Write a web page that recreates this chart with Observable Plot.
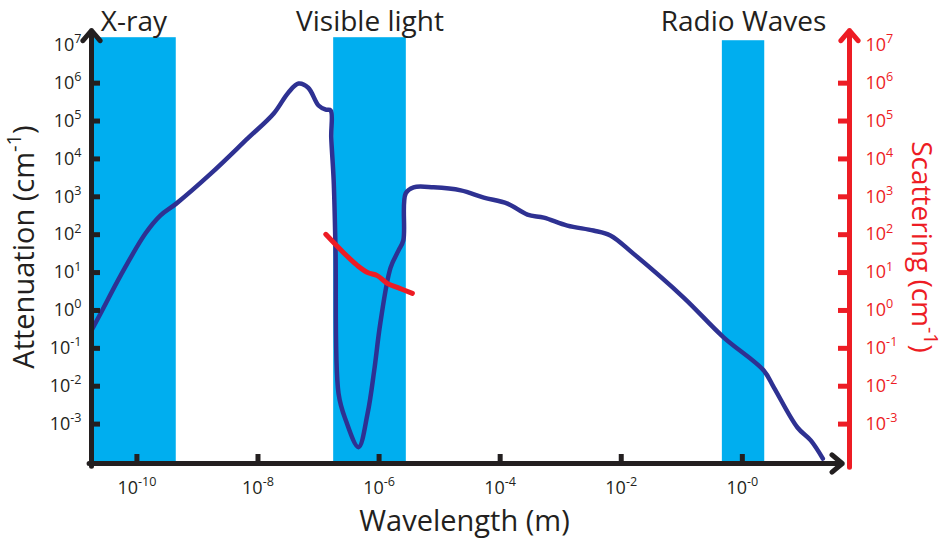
<!DOCTYPE html>
<html><head><meta charset="utf-8">
<script src="https://cdn.jsdelivr.net/npm/d3@7"></script>
<script src="https://cdn.jsdelivr.net/npm/@observablehq/plot@0.6"></script>
<style>body{margin:0;background:#fff} svg{display:block}</style>
</head><body><div id="chart"></div>
<script>
// ---- data (log10 exponents) ----
const attenuationWavelengthExp = [-10.75,-10.60,-10.27,-9.86,-9.61,-9.35,-8.78,-8.17,-7.74,-7.50,-7.33,-7.17,-7.00,-6.88,-6.80,-6.79,-6.75,-6.72,-6.67,-6.55,-6.34,-6.19,-6.08,-5.98,-5.81,-5.68,-5.60,-5.56,-5.43,-5.10,-4.65,-4.27,-3.88,-3.55,-3.28,-2.89,-2.46,-2.18,-1.80,-0.97,-0.31,0.35,0.52,0.91,1.13,1.33];
const attenuationExp = [-0.53,-0.08,0.92,2.03,2.51,2.82,3.61,4.54,5.20,5.75,5.99,5.88,5.41,5.30,5.28,4.56,3.43,1.66,-2.19,-2.90,-3.61,-2.72,-1.58,-0.34,1.13,1.58,1.85,3.09,3.25,3.25,3.17,2.98,2.82,2.53,2.45,2.24,2.11,1.98,1.50,0.34,-0.71,-1.58,-2.03,-3.09,-3.43,-3.91];
const scatteringWavelengthExp = [-6.88,-6.59,-6.36,-6.19,-6.03,-5.86,-5.70,-5.45];
const scatteringExp = [2.01,1.53,1.19,1.00,0.92,0.71,0.61,0.45];

const bandNames = ["X-ray", "Visible light", "Radio Waves"];
const bandStartExp = [-10.75, -6.75, -0.33];
const bandEndExp = [-9.35, -5.55, 0.37];
const bandTopExp = [7.2, 7.2, 7.12];

const xTickExp = [-10, -8, -6, -4, -2, 0];
const xTickLabels = ["10^{-10}", "10^{-8}", "10^{-6}", "10^{-4}", "10^{-2}", "10^{-0}"];
const yTickExp = [-3, -2, -1, 0, 1, 2, 3, 4, 5, 6, 7];
const yTickLabels = ["10^{-3}", "10^{-2}", "10^{-1}", "10^{0}", "10^{1}", "10^{2}", "10^{3}", "10^{4}", "10^{5}", "10^{6}", "10^{7}"];
const yTickMarkExp = [-3, -2, -1, 0, 1, 2, 3, 4, 5, 6];

const xDomainExp = [-10.75, 1.77];
const yDomainExp = [-4.04, 7.39];
const xArrowTipExp = 1.65;
const xCornerExp = -10.79;
const yCornerExp = -4.11;
const scatterAxisBottomExp = -4.14;

const xTitle = "Wavelength (m)";
const yTitle = "Attenuation (cm^{-1})";
const y2Title = "Scattering (cm^{-1})";

// ---- styling ----
const W = 945, H = 541, mL = 91, mR = 945 - 849, mT = 30, mB = 78;
const frameW = W - mL - mR, frameH = H - mT - mB;
const INK = "#231f20", BLUE = "#2e3192", RED = "#ed1c24", CYAN = "#00aeef";

const attenuation = attenuationWavelengthExp.map((e, i) => ({x: 10 ** e, y: 10 ** attenuationExp[i]}));
const scattering = scatteringWavelengthExp.map((e, i) => ({x: 10 ** e, y: 10 ** scatteringExp[i]}));
const bands = bandNames.map((n, i) => ({name: n, x1: 10 ** bandStartExp[i], x2: 10 ** bandEndExp[i], top: 10 ** bandTopExp[i]}));
const xTicks = xTickExp.map((e, i) => ({v: 10 ** e, label: xTickLabels[i]}));
const yTicks = yTickExp.map((e, i) => ({v: 10 ** e, label: yTickLabels[i]}));
const yTickMarks = yTickMarkExp.map(e => 10 ** e);
const xMin = 10 ** xDomainExp[0], xMax = 10 ** xDomainExp[1];
const yMin = 10 ** yDomainExp[0], yMax = 10 ** yDomainExp[1];

const plot = Plot.plot({
  width: W, height: H,
  marginLeft: mL, marginRight: mR, marginTop: mT, marginBottom: mB,
  x: {type: "log", domain: [xMin, xMax], axis: null},
  y: {type: "log", domain: [yMin, yMax], axis: null},
  style: {fontFamily: "'Open Sans', sans-serif", color: INK, background: "#fff"},
  marks: [
    Plot.rect(bands, {x1: "x1", x2: "x2", y1: () => yMin, y2: "top", fill: CYAN}),
    Plot.line(attenuation, {x: "x", y: "y", stroke: BLUE, strokeWidth: 4.5, curve: "catmull-rom"}),
    Plot.line(scattering, {x: "x", y: "y", stroke: RED, strokeWidth: 5, curve: "catmull-rom"}),
    Plot.tickX(xTicks, {x: "v", stroke: INK, strokeWidth: 5, insetTop: frameH - 9}),
    Plot.tickY(yTickMarks, {y: d => d, stroke: INK, strokeWidth: 5, insetRight: frameW - 9}),
    Plot.tickY(yTickMarks, {y: d => d, stroke: RED, strokeWidth: 5, insetLeft: frameW - 11}),
    Plot.arrow([0], {x1: () => xMin, y1: () => 10 ** yCornerExp, x2: () => xMin, y2: () => yMax, stroke: INK, strokeWidth: 5, headLength: 4, headAngle: 80}),
    Plot.arrow([0], {x1: () => 10 ** xCornerExp, y1: () => yMin, x2: () => 10 ** xArrowTipExp, y2: () => yMin, stroke: INK, strokeWidth: 5, headLength: 4, headAngle: 80}),
    Plot.arrow([0], {x1: () => xMax, y1: () => 10 ** scatterAxisBottomExp, x2: () => xMax, y2: () => yMax, stroke: RED, strokeWidth: 5, headLength: 4, headAngle: 80}),
    Plot.text(bands, {x: d => Math.sqrt(d.x1 * d.x2), text: "name", frameAnchor: "top", lineAnchor: "bottom", fontSize: 28, fill: INK}),
    Plot.text(xTicks, {x: "v", text: "label", frameAnchor: "bottom", lineAnchor: "bottom", dy: 30, fontSize: 18, fill: INK}),
    Plot.text(yTicks, {y: "v", text: "label", frameAnchor: "left", textAnchor: "end", dx: -10, fontSize: 18, fill: INK}),
    Plot.text(yTicks, {y: "v", text: "label", frameAnchor: "right", textAnchor: "start", dx: 16, fontSize: 18, fill: RED}),
    Plot.text([yTitle], {text: d => d, frameAnchor: "left", textAnchor: "middle", lineAnchor: "middle", dx: -67, rotate: -90, fontSize: 29, fill: INK}),
    Plot.text([y2Title], {text: d => d, frameAnchor: "right", textAnchor: "middle", lineAnchor: "middle", dx: 71, rotate: 90, fontSize: 28, fill: RED}),
    Plot.text([xTitle], {text: d => d, frameAnchor: "bottom", textAnchor: "middle", lineAnchor: "bottom", dx: -6, dy: 67, fontSize: 29, fill: INK})
  ]
});

// superscripts: turn "^{...}" into raised tspans
const NS = "http://www.w3.org/2000/svg";
plot.querySelectorAll("text, tspan").forEach(el => {
  if (el.children.length) return;
  const s = el.textContent;
  if (!s.includes("^{")) return;
  const parts = s.split(/\^\{([^}]*)\}/);
  el.textContent = "";
  parts.forEach((p, i) => {
    if (i % 2 === 0) {
      if (!p) return;
      if (i === 0) el.appendChild(document.createTextNode(p));
      else {
        const ts = document.createElementNS(NS, "tspan");
        ts.setAttribute("dy", "0.434em");
        ts.textContent = p;
        el.appendChild(ts);
      }
    } else {
      const ts = document.createElementNS(NS, "tspan");
      ts.setAttribute("font-size", "0.7em");
      ts.setAttribute("dy", "-0.62em");
      ts.textContent = p;
      el.appendChild(ts);
    }
  });
});

document.getElementById("chart").appendChild(plot);
</script>
</body></html>
